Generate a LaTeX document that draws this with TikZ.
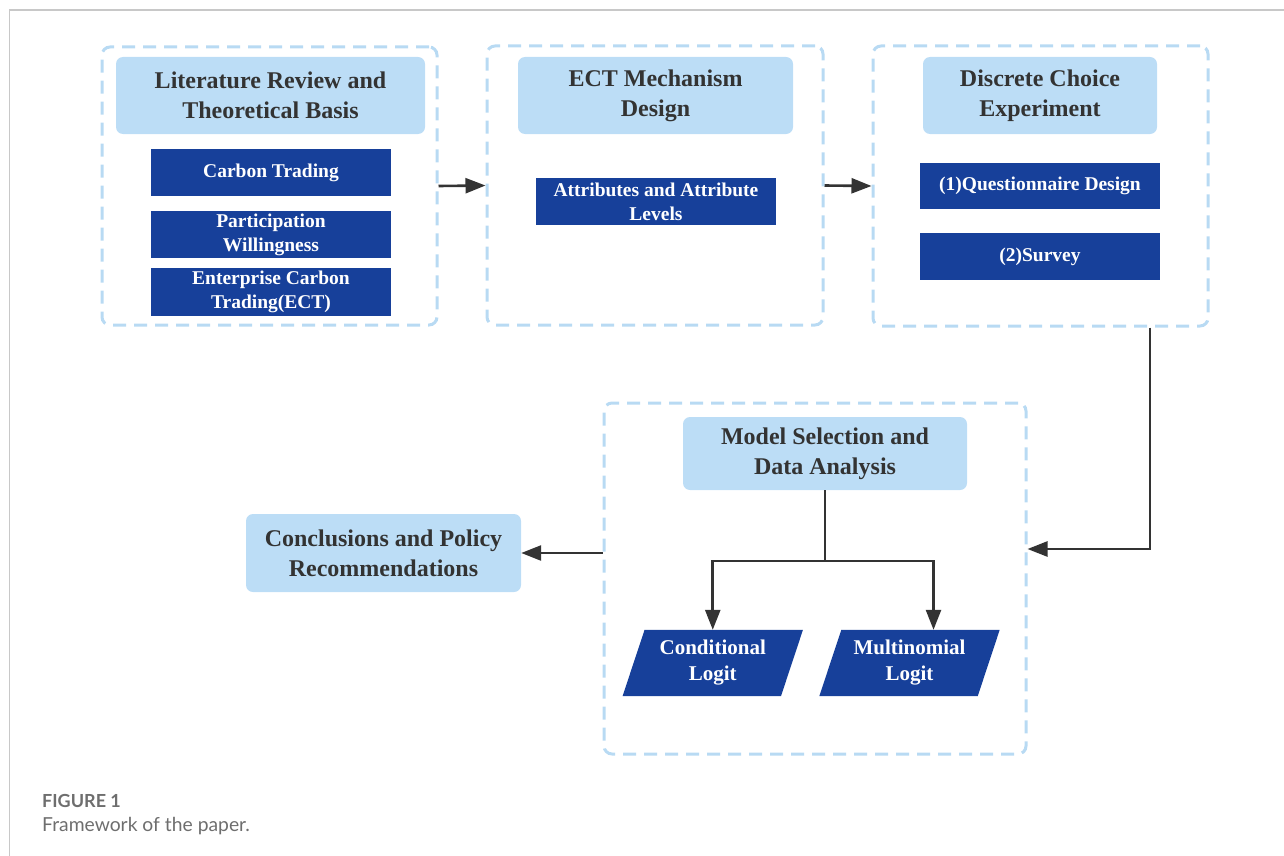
\documentclass[tikz,border=0pt]{standalone}
\usepackage{fontspec}
\setmainfont{Liberation Serif}
\newfontfamily\capfont{Lato}
\usetikzlibrary{arrows.meta,calc,backgrounds}

\definecolor{framecol}{HTML}{B8DAF3}
\definecolor{headfill}{HTML}{BCDDF6}
\definecolor{deepblue}{HTML}{17409A}
\definecolor{inkgray}{HTML}{333333}
\definecolor{rulegray}{HTML}{C8C8C8}
\definecolor{capgray}{HTML}{6E6E6E}

\tikzset{
  stage/.style={draw=framecol, line width=3pt, dash pattern=on 13pt off 8pt,
    rounded corners=8pt, inner sep=0pt},
  head/.style={fill=headfill, rounded corners=7pt, text=inkgray, align=center,
    inner sep=0pt, font=\bfseries\fontsize{24}{30}\selectfont},
  item/.style={fill=deepblue, text=white, align=center, inner sep=0pt,
    minimum width=240pt, font=\bfseries\fontsize{19.5}{24}\selectfont},
  slanttxt/.style={text=white, align=center, inner sep=0pt,
    minimum width=158pt, minimum height=66pt,
    font=\bfseries\fontsize{21}{26}\selectfont},
  link/.style={draw=inkgray, line width=2.6pt},
  arr/.style={link, -{Triangle[length=20pt,width=15pt]}},
}

\begin{document}
\begin{tikzpicture}[x=1pt,y=-1pt]
\useasboundingbox (0,0) rectangle (1284,856);

% page rule along the top and left
\draw[rulegray, line width=1.5pt] (9.5,856) -- (9.5,10) -- (1284,10);

% stage 1
\node[stage, minimum width=335pt, minimum height=278pt] (box1) at (269.5,186) {};
\node[head, minimum width=309pt, minimum height=77pt] (hd1) at (270.5,95.5)
  {Literature Review and\\Theoretical Basis};
\node[item, minimum height=47pt] (ct) at (271,172.5) {Carbon Trading};
\node[item, minimum height=47pt] (pw) at (271,234.5) {Participation\\Willingness};
\node[item, minimum height=48pt] (ect) at (271,292) {Enterprise Carbon\\Trading(ECT)};

% stage 2
\node[stage, minimum width=336pt, minimum height=279pt] (box2) at (655,185.5) {};
\node[head, minimum width=275pt, minimum height=77pt] (hd2) at (655.5,95.5)
  {ECT Mechanism\\Design};
\node[item, minimum height=47pt] (attr) at (656,201.5) {Attributes and Attribute\\Levels};

% stage 3
\node[stage, minimum width=335pt, minimum height=280pt] (box3) at (1040.5,186) {};
\node[head, minimum width=234pt, minimum height=77pt] (hd3) at (1040,95.5)
  {Discrete Choice\\Experiment};
\node[item, minimum height=46pt] (qd) at (1040,186) {(1)Questionnaire Design};
\node[item, minimum height=47pt] (sv) at (1040,256.5) {(2)Survey};

% stage 4
\node[stage, minimum width=422pt, minimum height=351pt] (box4) at (815,578.5) {};
\node[head, minimum width=284pt, minimum height=73pt] (hd4) at (825,453.5)
  {Model Selection and\\Data Analysis};
\node[slanttxt] (cl) at (712.75,663) {Conditional\\Logit};
\node[slanttxt] (ml) at (909.5,663) {Multinomial\\Logit};
\begin{scope}[on background layer]
  \foreach \p in {cl,ml}{
    \fill[deepblue] ($(\p.south west)+(-11,0)$) -- ($(\p.north west)+(11,0)$)
      -- ($(\p.north east)+(11,0)$) -- ($(\p.south east)+(-11,0)$) -- cycle;
  }
\end{scope}

% conclusions
\node[head, minimum width=275pt, minimum height=78pt] (conc) at (383.5,553)
  {Conclusions and Policy\\Recommendations};

% connectors
\draw[arr] (box1.east) -- (box2.west);
\draw[arr] (box2.east) -- (box3.west);
\draw[arr] ($(box3.south)+(109.5,0)$) |- ($(box4.east)+(0,-29.5)$);
\draw[arr] (box4.west |- conc.east) -- (conc.east);
\coordinate (split) at (825,561);
\draw[link] (hd4.south) -- (split);
\draw[arr] (split) -| (cl.north);
\draw[arr] (split) -| ($(ml.north)+(24,0)$);

% caption
\node[anchor=base west, inner sep=0pt, text=capgray,
  font=\capfont\bfseries\fontsize{18}{22}\selectfont] (figno) at (42,807) {FIGURE 1};
\node[anchor=base west, inner sep=0pt, text=capgray,
  font=\capfont\fontsize{19.3}{23}\selectfont] (figcap) at (42,831) {Framework of the paper.};
\end{tikzpicture}
\end{document}
